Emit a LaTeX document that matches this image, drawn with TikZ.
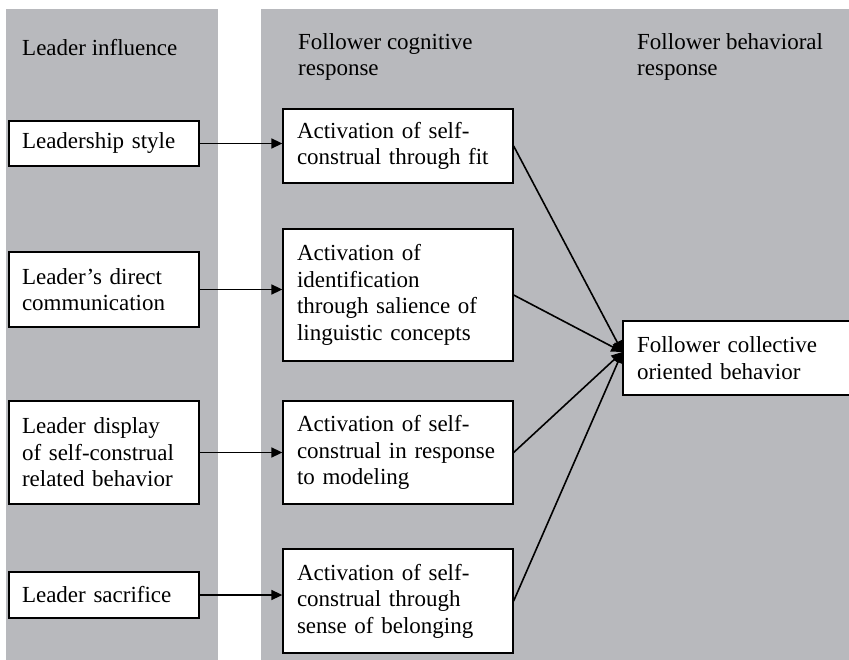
\documentclass[tikz,border=0pt]{standalone}
\usepackage{fontspec}
\setmainfont{Liberation Serif}
\usetikzlibrary{arrows.meta, positioning}
\definecolor{panelgray}{RGB}{184,185,189}

\begin{document}
\begin{tikzpicture}[x=1pt, y=-1pt,
    every node/.style={font=\fontsize{23}{26.5}\selectfont},
    leadbox/.style={draw, fill=white, line width=1.3pt, align=left, inner xsep=13pt, inner ysep=2pt, text width=164pt, minimum height=#1},
    actbox/.style={draw, fill=white, line width=1.3pt, align=left, inner xsep=14pt, inner ysep=2pt, text width=202pt, minimum height=#1},
    header/.style={anchor=north west, inner sep=0pt, align=left},
    arr/.style={line width=1.6pt, -{Triangle[length=11pt, width=10pt]}}]
    \useasboundingbox (0,0) rectangle (849,660);

    % Panels
    \fill[panelgray] (6,9) rectangle (218,670);
    \fill[panelgray] (261,9) rectangle (860,670);
    \node[header] (hlead) at (22,39) {Leader influence};
    \node[header] (hcog) at (298,33) {Follower cognitive\\response};
    \node[header] (hbeh) at (637,33) {Follower behavioral\\response};

    % Leader influence
    \node[leadbox=45pt] (lstyle) at (104,143.5) {Leadership style};
    \node[leadbox=75pt] (ldirect) at (104,289.5) {Leader's direct\\communication};
    \node[leadbox=103pt] (ldisplay) at (104,452.5) {Leader display\\of self-construal\\related behavior};
    \node[leadbox=46pt] (lsacrifice) at (104,595) {Leader sacrifice};

    % Cognitive response
    \node[actbox=74pt] (afit) at (398,146) {Activation of self-\\construal through fit};
    \node[actbox=132pt] (aident) at (398,295) {Activation of\\identification\\through salience of\\linguistic concepts};
    \node[actbox=103pt] (amodel) at (398,452.5) {Activation of self-\\construal in response\\to modeling};
    \node[actbox=104pt] (abelong) at (398,601) {Activation of self-\\construal through\\sense of belonging};

    % Behavioral response
    \node[actbox=74pt, text width=204pt] (fcollective) at (739,358) {Follower collective\\oriented behavior};
    \coordinate (fin) at ([yshift=6pt]fcollective.west);

    % Arrows
    \draw[arr] (lstyle) -- (lstyle -| afit.west);
    \draw[arr] (ldirect) -- (ldirect -| aident.west);
    \draw[arr] (ldisplay) -- (ldisplay -| amodel.west);
    \draw[arr] (lsacrifice) -- (lsacrifice -| abelong.west);
    \draw[arr] (afit.east) -- (fin);
    \draw[arr] (aident.east) -- (fin);
    \draw[arr] (amodel.east) -- (fin);
    \draw[arr] (abelong.east) -- (fin);
\end{tikzpicture}
\end{document}
